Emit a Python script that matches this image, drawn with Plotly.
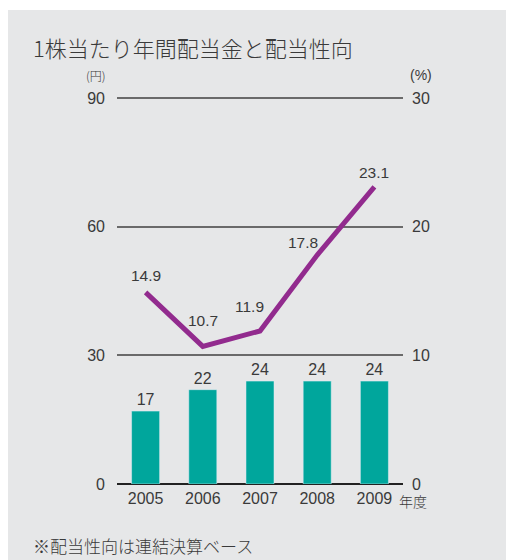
import plotly.graph_objects as go

years = ["2005", "2006", "2007", "2008", "2009"]
dividend = [17, 22, 24, 24, 24]
payout = [14.9, 10.7, 11.9, 17.8, 23.1]
payout_labels = ["14.9", "10.7", "11.9", "17.8", "23.1"]
left_ticks = [0, 30, 60, 90]
right_ticks = [0, 10, 20, 30]

FONT = "Liberation Sans, Arial, Noto Sans CJK JP"
JFONT = "Noto Sans CJK JP, Liberation Sans"
TXT = "#3A3A3A"
EPS = 1.003

fig = go.Figure()
fig.add_trace(go.Bar(
    x=years, y=dividend, marker_color="#00A69C", width=0.49,
    text=[str(v) for v in dividend], textposition="outside",
    textfont=dict(family=FONT, size=16, color=TXT), cliponaxis=False,
    yaxis="y", showlegend=False,
))
fig.add_trace(go.Scatter(
    x=years, y=payout, mode="lines", line=dict(color="#922B8E", width=5),
    yaxis="y2", showlegend=False, cliponaxis=False,
))

# line labels offsets (pixels)
offs = [(0, 17), (0, 26), (-11, 24), (-14, 13), (0, 14)]
for i, (v, lab, (dx, dy)) in enumerate(zip(payout, payout_labels, offs)):
    fig.add_annotation(x=i, xref="x", y=v, yref="y2", text=lab, showarrow=False,
                       xshift=dx, yshift=dy,
                       font=dict(family=FONT, size=15.5, color=TXT))

# background panel
fig.add_shape(type="rect", xref="paper", yref="paper",
              x0=(8 - 117) / 286, x1=(510 - 117) / 286,
              y0=(484 - 565) / 387, y1=(484 - 10) / 387,
              fillcolor="#E6E7E8", line_width=0, layer="below")

fig.add_annotation(xref="paper", yref="paper", x=(31 - 117) / 286, y=(484 - 47) / 387,
                   xanchor="left", yanchor="middle", showarrow=False,
                   text="1株当たり年間配当金と配当性向",
                   font=dict(family=JFONT, size=22, color=TXT, weight=300))
fig.add_annotation(xref="paper", yref="paper", x=(96 - 117) / 286, y=(484 - 75) / 387,
                   xanchor="center", yanchor="middle", showarrow=False,
                   text="(円)", font=dict(family=JFONT, size=12, color=TXT, weight=300))
fig.add_annotation(xref="paper", yref="paper", x=(421 - 117) / 286, y=(484 - 75) / 387,
                   xanchor="center", yanchor="middle", showarrow=False,
                   text="(%)", font=dict(family=FONT, size=14, color=TXT))
fig.add_annotation(xref="paper", yref="paper", x=(397 - 117) / 286, y=(484 - 501) / 387,
                   xanchor="left", yanchor="middle", showarrow=False,
                   text="年度", font=dict(family=JFONT, size=14, color=TXT, weight=300))
fig.add_annotation(xref="paper", yref="paper", x=(31 - 117) / 286, y=(484 - 545) / 387,
                   xanchor="left", yanchor="middle", showarrow=False,
                   text="※配当性向は連結決算ベース",
                   font=dict(family=JFONT, size=17, color=TXT, weight=300))

fig.update_layout(
    width=506, height=560,
    margin=dict(l=117, r=103, t=97, b=76),
    paper_bgcolor="white", plot_bgcolor="rgba(0,0,0,0)",
    font=dict(family=FONT, size=16, color=TXT),
    bargap=0.51,
    xaxis=dict(type="category", range=[-0.5, 4.5], showgrid=False,
               showline=False, ticks="", ticklabelstandoff=3,
               tickfont=dict(size=16, color=TXT)),
    yaxis=dict(range=[0, 90 * EPS], tickvals=left_ticks, showgrid=True,
               gridcolor="#6A6A6A", gridwidth=1.5, zeroline=True,
               zerolinecolor="#222222", zerolinewidth=2, showline=False,
               ticks="", ticklabelstandoff=11, tickfont=dict(size=16, color=TXT)),
    yaxis2=dict(range=[0, 30 * EPS], tickvals=right_ticks, overlaying="y", side="right",
                showgrid=False, zeroline=False, showline=False, ticks="",
                ticklabelstandoff=8, tickfont=dict(size=16, color=TXT)),
)

fig.write_html("out.html")
